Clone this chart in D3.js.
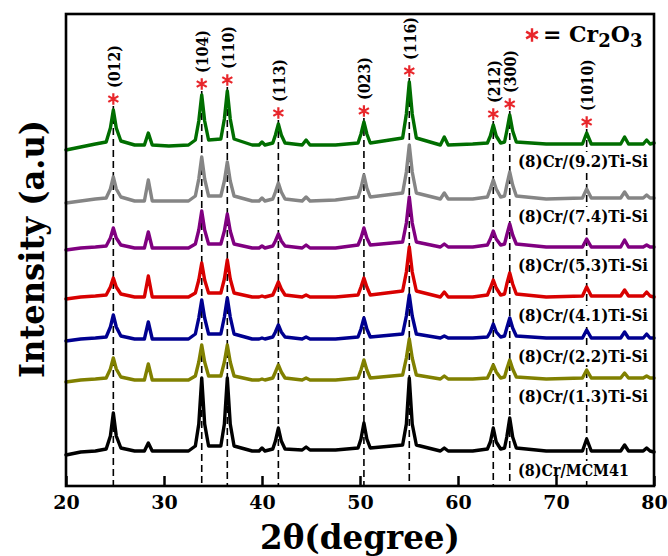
<!DOCTYPE html>
<html>
<head>
<meta charset="utf-8">
<script src="https://cdn.jsdelivr.net/npm/d3@7"></script>
<style>
  body { margin: 0; background: #fff; }
  svg { display: block; }
  text { font-family: "DejaVu Serif", serif; font-weight: bold; fill: #000; }
</style>
</head>
<body>
<svg id="chart" width="668" height="556"></svg>
<script>
// 2θ positions (degree) shared by every pattern
const twoTheta = [
  20, 21.5, 23, 24.1, 24.53, 24.83, 25.13, 25.6, 27, 28.0, 28.4, 28.8,
  30.5, 32.5, 33.2, 33.55, 33.85, 34.15, 34.55, 35.8, 36.16, 36.46, 36.76, 37.15,
  39.0, 39.7, 40.0, 40.3, 41.1, 41.37, 41.67, 41.97, 42.35, 44.1, 44.5, 44.9,
  47.5, 49.8, 50.1, 50.4, 50.7, 51.05, 54.35, 54.73, 55.03, 55.33, 55.75, 58.2,
  58.6, 59.0, 61.5, 63.0, 63.3, 63.6, 63.9, 64.35, 64.75, 64.98, 65.28, 65.58,
  65.95, 69, 72.7, 73.13, 73.6, 76.6, 77.0, 77.4, 78.9, 79.25, 79.6, 80
];

// Stacked intensities (a.u.), one list per sample
const crMCM41 = [
  31, 34, 35, 37, 50, 73, 50, 38, 35, 35, 43, 35,
  35, 35, 40, 62, 108, 62, 40, 40, 62, 108, 62, 40,
  35, 35, 38, 35, 37, 45, 58, 45, 37, 36, 39, 36,
  36, 38, 47, 63, 47, 38, 41, 62, 108, 62, 41, 35,
  38, 35, 35, 37, 44, 58, 44, 37, 38, 49, 68, 49,
  38, 35, 35, 47, 35, 35, 41, 35, 35, 38, 35, 34
];
const crTiSi13 = [
  104, 106, 107, 108, 117, 128, 117, 109, 106, 106, 122, 106,
  106, 106, 110, 124, 141, 124, 110, 110, 124, 141, 124, 110,
  106, 106, 107, 106, 108, 114, 121, 114, 108, 106, 108, 106,
  106, 108, 116, 126, 116, 108, 111, 128, 147, 128, 111, 107,
  110, 107, 107, 108, 114, 121, 114, 108, 109, 117, 126, 117,
  109, 107, 108, 116, 108, 108, 113, 108, 108, 110, 108, 108
];
const crTiSi22 = [
  145, 147, 148, 149, 159, 171, 159, 150, 147, 147, 164, 147,
  147, 147, 152, 168, 186, 168, 152, 152, 169, 188, 169, 152,
  147, 147, 148, 147, 149, 154, 161, 154, 149, 147, 149, 147,
  147, 149, 157, 168, 157, 149, 152, 170, 191, 170, 152, 148,
  150, 148, 148, 149, 154, 162, 154, 149, 150, 158, 168, 158,
  150, 148, 148, 156, 148, 148, 154, 148, 148, 152, 148, 148
];
const crTiSi41 = [
  187, 189, 190, 191, 199, 208, 199, 192, 189, 189, 210, 189,
  189, 189, 193, 206, 223, 206, 193, 193, 207, 226, 207, 193,
  189, 189, 190, 189, 191, 197, 204, 197, 191, 189, 191, 189,
  189, 191, 199, 208, 199, 191, 195, 214, 239, 214, 195, 189,
  194, 189, 189, 191, 198, 206, 198, 191, 192, 202, 213, 202,
  192, 189, 190, 199, 190, 190, 196, 190, 190, 194, 190, 189
];
const crTiSi53 = [
  236, 238, 239, 240, 248, 258, 248, 241, 238, 238, 254, 238,
  238, 238, 242, 256, 275, 256, 242, 242, 255, 272, 255, 242,
  238, 238, 240, 238, 240, 245, 252, 245, 240, 238, 241, 238,
  238, 241, 248, 258, 248, 241, 244, 263, 289, 263, 244, 239,
  242, 239, 239, 241, 247, 255, 247, 241, 242, 251, 262, 251,
  242, 239, 239, 247, 239, 239, 246, 239, 239, 241, 239, 239
];
const crTiSi74 = [
  283, 285, 287, 288, 297, 309, 297, 289, 285, 285, 306, 285,
  285, 285, 290, 307, 329, 307, 290, 290, 305, 324, 305, 290,
  285, 285, 288, 285, 287, 294, 303, 294, 287, 285, 289, 285,
  286, 289, 298, 311, 298, 289, 293, 314, 341, 314, 293, 287,
  293, 287, 287, 289, 297, 306, 297, 289, 290, 301, 314, 301,
  290, 287, 288, 297, 288, 288, 294, 288, 288, 291, 288, 288
];
const crTiSi92 = [
  336, 339, 342, 344, 358, 376, 358, 345, 341, 341, 353, 341,
  340, 341, 346, 365, 391, 365, 346, 347, 367, 395, 367, 347,
  341, 341, 344, 341, 343, 351, 362, 351, 343, 341, 346, 341,
  341, 343, 352, 364, 352, 343, 348, 372, 404, 372, 348, 341,
  349, 341, 342, 343, 350, 361, 350, 343, 344, 355, 371, 355,
  344, 342, 342, 353, 342, 342, 349, 342, 342, 346, 342, 343
];

const sampleNames = [
  "(8)Cr/MCM41", "(8)Cr/(1.3)Ti-Si", "(8)Cr/(2.2)Ti-Si", "(8)Cr/(4.1)Ti-Si",
  "(8)Cr/(5.3)Ti-Si", "(8)Cr/(7.4)Ti-Si", "(8)Cr/(9.2)Ti-Si"
];
const sampleValues = [crMCM41, crTiSi13, crTiSi22, crTiSi41, crTiSi53, crTiSi74, crTiSi92];

// Cr2O3 reflections
const planeLabels = ["(012)", "(104)", "(110)", "(113)", "(023)", "(116)", "(212)", "(300)", "(1010)"];
const planeAngles = [24.83, 33.85, 36.46, 41.67, 50.4, 55.03, 63.6, 65.28, 73.13];

const xTickValues = [20, 30, 40, 50, 60, 70, 80];

// ---- layout ----
const plotLeft = 66, plotRight = 654, plotTop = 14, plotBottom = 486;
const colors = ["#000000", "#808000", "#000090", "#d80000", "#800080", "#858585", "#006e00"];

const svg = d3.select("#chart");
const x = d3.scaleLinear().domain([20, 80]).range([plotLeft, plotRight]);
const y = d3.scaleLinear().domain([0, 472]).range([plotBottom, plotTop]);

// dashed reference lines through the Cr2O3 reflections
const topSeries = sampleValues[sampleValues.length - 1];
const planeInfo = planeLabels.map((lab, i) => {
  const idx = twoTheta.indexOf(planeAngles[i]);
  const starY = y(topSeries[idx]) - 11;
  return { lab, angle: planeAngles[i], starY };
});

svg.append("g").selectAll("line").data(planeInfo).join("line")
  .attr("x1", d => x(d.angle)).attr("x2", d => x(d.angle))
  .attr("y1", d => d.starY + 7).attr("y2", plotBottom)
  .attr("stroke", "#000").attr("stroke-width", 1.6)
  .attr("stroke-dasharray", "7,4");

// sample names, each just under its own pattern, on a white box
const labelG = svg.append("g");
sampleNames.forEach((name, i) => {
  const vals = sampleValues[i];
  const cy = y(vals[vals.length - 1]) + 18;
  const g = labelG.append("g");
  const w = name.indexOf("Ti") >= 0 ? 130 : 111;
  g.append("rect").attr("x", 515).attr("y", cy - 9).attr("width", w + 5).attr("height", 18).attr("fill", "#fff");
  g.append("text").attr("x", 518).attr("y", cy).attr("dy", "0.36em")
    .attr("font-size", 16.5)
    .attr("textLength", w).attr("lengthAdjust", "spacingAndGlyphs")
    .text(name);
});

// diffraction patterns, lowest first
const line = d3.line().x((d, i) => x(twoTheta[i])).y(d => y(d));
svg.append("g").selectAll("path").data(sampleValues).join("path")
  .attr("d", d => line(d))
  .attr("fill", "none")
  .attr("stroke", (d, i) => colors[i])
  .attr("stroke-width", 3.4)
  .attr("stroke-linejoin", "round")
  .attr("stroke-linecap", "round");

// asterisks and Miller indices
const star = d3.symbol(d3.symbolAsterisk).size(95);
svg.append("g").selectAll("path").data(planeInfo).join("path")
  .attr("d", star)
  .attr("transform", d => `translate(${x(d.angle)},${d.starY})`)
  .attr("fill", "none").attr("stroke", "#e8262b").attr("stroke-width", 2.2);

svg.append("g").selectAll("text").data(planeInfo).join("text")
  .attr("transform", d => `translate(${x(d.angle)},${d.starY - 11}) rotate(-90)`)
  .attr("dy", "0.36em")
  .attr("font-size", 17.5)
  .attr("textLength", d => d.lab.length * 8.6)
  .attr("lengthAdjust", "spacingAndGlyphs")
  .text(d => d.lab);

// legend: * = Cr2O3
svg.append("path").attr("d", d3.symbol(d3.symbolAsterisk).size(130)())
  .attr("transform", "translate(532,35)")
  .attr("fill", "none").attr("stroke", "#e8262b").attr("stroke-width", 2.4);
const leg = svg.append("text").attr("x", 543).attr("y", 42).attr("font-size", 22);
leg.append("tspan").text("= Cr");
leg.append("tspan").attr("font-size", 18).attr("dy", 5).text("2");
leg.append("tspan").attr("dy", -5).text("O");
leg.append("tspan").attr("font-size", 18).attr("dy", 5).text("3");

// x axis with inward ticks
const xAxis = d3.axisBottom(x).tickValues(xTickValues).tickSizeInner(-10).tickSizeOuter(0).tickPadding(10);
const ax = svg.append("g").attr("transform", `translate(0,${plotBottom})`).call(xAxis);
ax.select(".domain").remove();
ax.selectAll(".tick line").attr("stroke", "#000").attr("stroke-width", 2.5);
ax.selectAll(".tick text").attr("font-size", 19).attr("font-family", "DejaVu Serif").attr("font-weight", "bold").attr("fill", "#000");

// frame
svg.append("rect").attr("x", plotLeft).attr("y", plotTop)
  .attr("width", plotRight - plotLeft).attr("height", plotBottom - plotTop)
  .attr("fill", "none").attr("stroke", "#000").attr("stroke-width", 2.6);

// axis titles
svg.append("text").attr("x", 360).attr("y", 549).attr("text-anchor", "middle")
  .attr("font-size", 34).attr("textLength", 200).attr("lengthAdjust", "spacingAndGlyphs")
  .text("2θ(degree)");
svg.append("text").attr("transform", "translate(44,249) rotate(-90)").attr("text-anchor", "middle")
  .attr("font-size", 34).attr("textLength", 258).attr("lengthAdjust", "spacingAndGlyphs")
  .text("Intensity (a.u)");
</script>
</body>
</html>
